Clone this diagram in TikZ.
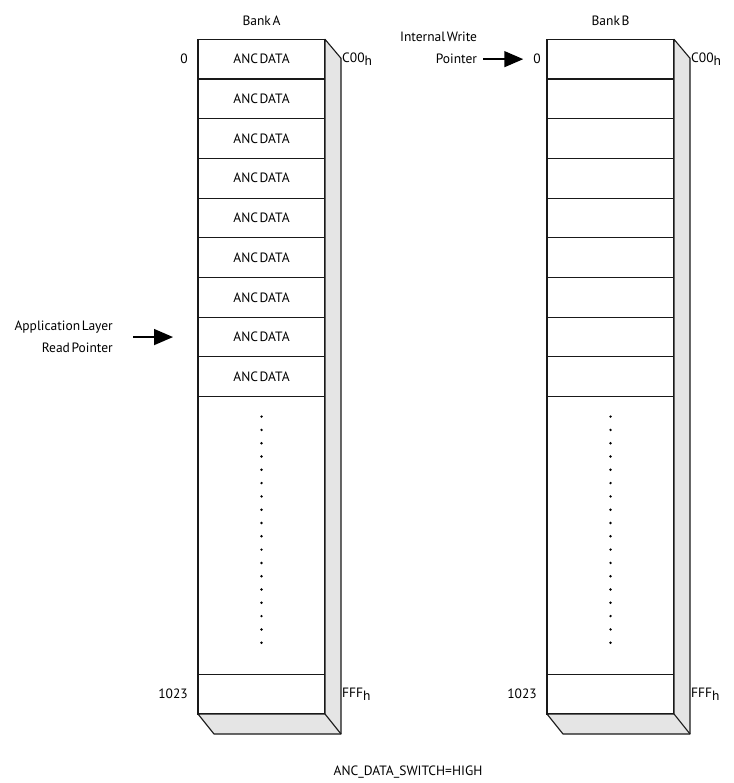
\documentclass[tikz,border=0pt]{standalone}
\usepackage{fontspec}
\setmainfont[WordSpace=0.45]{PT Sans}
\usepackage{tikz}
\usetikzlibrary{arrows.meta,positioning,calc}
\definecolor{facegray}{gray}{0.9}

\begin{document}
\begin{tikzpicture}[
    x=1pt, y=-1pt,
    font=\fontsize{13.5}{15}\selectfont,
    cell/.style={rectangle, draw=black!90, line width=1.1pt, minimum width=127pt, minimum height=39.7pt, inner sep=0pt, outer sep=0pt},
    face/.style={fill=facegray, draw=black!90, line width=1.1pt, line join=round},
    lbl/.style={inner sep=1pt},
    twoline/.style={lbl, align=right, font=\fontsize{13.5}{22}\selectfont},
    ptr/.style={-{Triangle[length=19pt, width=16pt]}, line width=1.5pt},
    dot/.style={circle, fill=black, inner sep=0pt, minimum size=2.7pt}
]
\useasboundingbox (0,0) rectangle (733,783);

% Bank A
\node [cell] (a1) at (261.5,59.15) {ANC DATA};
\foreach \i [count=\j] in {2,...,9}
    \node [cell, below=0pt of a\j] (a\i) {ANC DATA};
\node [cell, below=0pt of a9, minimum height=277.7pt] (amid) {};
\node [cell, below=0pt of amid] (alast) {};
\foreach \k in {0,...,17}
    \node [dot] (da\k) at ($(amid.north)+(0,{20+13.3*\k})$) {};
\draw [face] (a1.north east) -- ++(16,19) -- ($(alast.south east)+(16,20)$)
    -- ($(alast.south west)+(16,20)$) -- (alast.south west) -- (alast.south east) -- cycle;
\draw [face] (alast.south east) -- ++(16,20);

% Bank B
\node [cell] (b1) at (610.5,59.15) {};
\foreach \i [count=\j] in {2,...,9}
    \node [cell, below=0pt of b\j] (b\i) {};
\node [cell, below=0pt of b9, minimum height=277.7pt] (bmid) {};
\node [cell, below=0pt of bmid] (blast) {};
\foreach \k in {0,...,17}
    \node [dot] (db\k) at ($(bmid.north)+(0,{20+13.3*\k})$) {};
\draw [face] (b1.north east) -- ++(16,19) -- ($(blast.south east)+(16,20)$)
    -- ($(blast.south west)+(16,20)$) -- (blast.south west) -- (blast.south east) -- cycle;
\draw [face] (blast.south east) -- ++(16,20);

% labels
\node [lbl, above=12pt of a1] (ta) {Bank A};
\node [lbl, above=12pt of b1] (tb) {Bank B};
\node [lbl, left=9pt of a1] (za) {0};
\node [lbl, left=5pt of b1] (zb) {0};
\node [lbl, left=9pt of alast] (na) {1023};
\node [lbl, left=9pt of blast] (nb) {1023};
\node [lbl, anchor=west] (ca) at ([xshift=16pt]a1.east) {C00\raisebox{-3pt}{h}};
\node [lbl, anchor=west] (cb) at ([xshift=16pt]b1.east) {C00\raisebox{-3pt}{h}};
\node [lbl, anchor=west] (fa) at ([xshift=16pt]alast.east) {FFF\raisebox{-3pt}{h}};
\node [lbl, anchor=west] (fb) at ([xshift=16pt]blast.east) {FFF\raisebox{-3pt}{h}};

% pointers
\node [twoline, anchor=east] (iwp) at ([xshift=-54pt, yshift=11pt]zb.west) {Internal Write\\Pointer};
\draw [ptr] ([xshift=5pt]iwp.east |- zb.west) -- ([xshift=-9pt]zb.west);
\node [twoline, left=84pt of a8] (arp) {Application Layer\\Read Pointer};
\draw [ptr] ([xshift=19pt]arp.east) -- ([xshift=-25pt]a8.west);

\node [lbl] (sw) at (408,772) {ANC\_DATA\_SWITCH=HIGH};
\end{tikzpicture}
\end{document}
